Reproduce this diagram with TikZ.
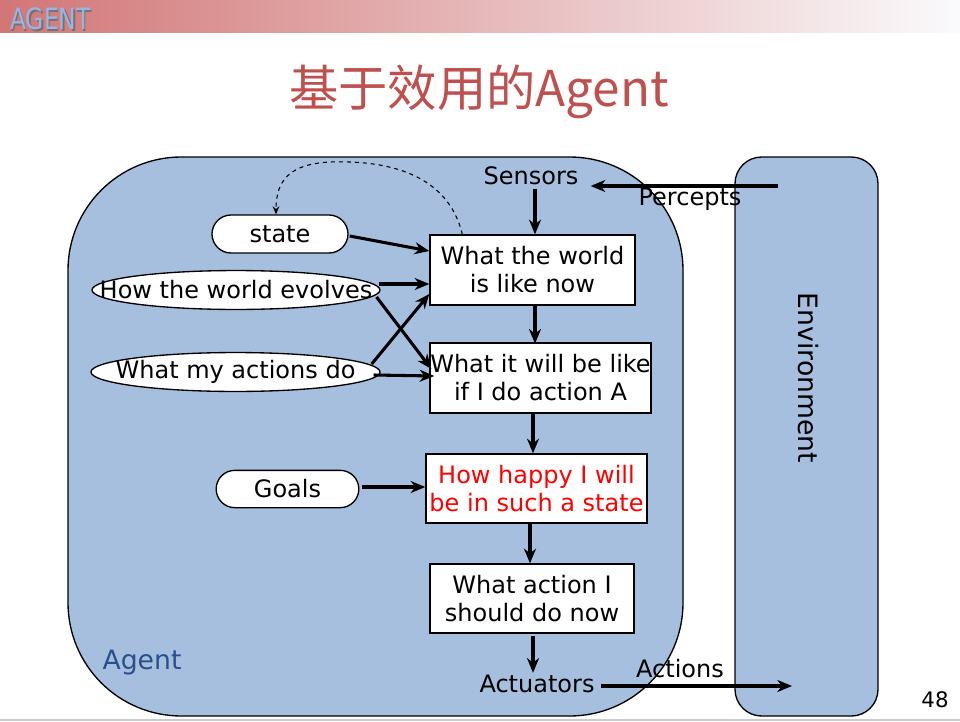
\documentclass[tikz,border=0pt]{standalone}
\usepackage{fontspec}
\setmainfont{DejaVu Sans}
\newfontfamily\cjkfont{Noto Sans CJK SC}
\usetikzlibrary{arrows.meta,shapes.misc,calc}

\definecolor{agentblue}{RGB}{167,191,222}
\definecolor{titlered}{RGB}{192,80,77}
\definecolor{labelblue}{RGB}{40,80,140}
\definecolor{barleft}{RGB}{210,118,118}
\definecolor{barright}{RGB}{250,250,252}
\definecolor{headtext}{RGB}{150,182,230}

\tikzset{
  x=0.75pt, y=-0.75pt,
  panel/.style={draw=black, line width=1pt, fill=agentblue},
  txt/.style={font=\fontsize{18pt}{21pt}\selectfont, inner sep=0pt, align=center},
  procbox/.style={txt, draw=black, line width=1pt, fill=white},
  pill/.style={txt, rounded rectangle, draw=black, line width=1pt, fill=white},
  ovalfill/.style={draw=black, line width=1pt, fill=white},
  arr/.style={line width=2.3pt, -{Stealth[length=11pt,width=9pt,inset=3.5pt]}},
  darr/.style={line width=0.8pt, dashed, -{Stealth[length=6pt,width=5pt,inset=2pt]}}
}

\begin{document}
\begin{tikzpicture}
\useasboundingbox (0,0) rectangle (960,721);

% header bar and footer rule
\shade[left color=barleft, right color=barright] (0,0) rectangle (960,32);
\node[font=\fontsize{22pt}{22pt}\selectfont, text=black!55, xscale=0.8, anchor=west, inner sep=0pt] (headshadow) at (11.5,20.5) {AGENT};
\node[font=\fontsize{22pt}{22pt}\selectfont, text=headtext, xscale=0.8, anchor=west, inner sep=0pt] (head) at (10,19) {AGENT};
\draw[black!20, line width=1.5pt] (0,719.5) -- (960,719.5);

% title
\node[font=\cjkfont\fontsize{37pt}{40pt}\selectfont, text=titlered, inner sep=0pt] (title) at (479,92) {基于效用的Agent};

% agent and environment panels
\draw[panel, rounded corners=85pt] (68,157) rectangle (683,716);
\draw[panel, rounded corners=20pt] (735,157) rectangle (878,716);
\node[txt, rotate=-90, font=\fontsize{20pt}{21pt}\selectfont] (env) at (808,378) {Environment};
\node[txt, text=labelblue, font=\fontsize{20pt}{21pt}\selectfont] (agentlbl) at (142,663) {Agent};

% sensors / actuators
\node[txt] (sensors) at (531,176) {Sensors};
\node[txt] (actuators) at (537,684) {Actuators};
\coordinate (perceptsrc) at (778,186);
\coordinate (actiondst) at (792,686);
\node[txt] (percepts) at (690,199) {Percepts};
\node[txt] (actions) at (680,669) {Actions};

% processing boxes
\node[procbox, minimum width=153.75pt, minimum height=52.5pt] (world) at (532.5,270) {What the world\\is like now};
\node[procbox, minimum width=165.75pt, minimum height=52.5pt] (predict) at (540.5,378) {What it will be like\\if I do action A};
\node[procbox, text=red, minimum width=165.75pt, minimum height=51.75pt] (happy) at (536.5,488.5) {How happy I will\\be in such a state};
\node[procbox, minimum width=153pt, minimum height=51.75pt] (decide) at (532,598.5) {What action I\\should do now};

% knowledge items
\node[pill, minimum width=102pt, minimum height=28.5pt] (state) at (280,234) {state};
\path[ovalfill] (236,290) ellipse [x radius=108pt, y radius=14.6pt];
\node[txt] (evolves) at (236,290) {How the world evolves};
\path[ovalfill] (235.5,372) ellipse [x radius=108.4pt, y radius=14.6pt];
\node[txt] (myactions) at (235.5,372) {What my actions do};
\node[pill, minimum width=107pt, minimum height=28pt] (goals) at (287.5,489) {Goals};

% connectors
\draw[arr] (perceptsrc) -- ($(sensors.east)+(12,10)$);
\draw[arr] ($(sensors.south)+(4,4)$) -- ($(world.north)+(2.5,0)$);
\draw[arr] ($(world.south)+(2.5,0)$) -- ($(world.south)+(2.5,38)$);
\draw[arr] ($(predict.south)+(-7.5,0)$) -- ($(happy.north)+(-3.5,0)$);
\draw[arr] ($(happy.south)+(-6.5,0)$) -- ($(decide.north)+(-2,0)$);
\draw[arr] ($(decide.south)+(1,2)$) -- ($(actuators.north)+(-4,-2)$);
\draw[arr] ($(actuators.east)+(6,2)$) -- (actiondst);

\draw[arr] ($(state.east)+(1,2)$) -- ($(world.west)+(0,-19)$);
\draw[arr] ($(evolves.east)+(6,-6)$) -- ($(world.west)+(0,14)$);
\draw[arr] ($(evolves.east)+(4,7)$) -- ($(predict.west)+(2,-9)$);
\draw[arr] ($(myactions.east)+(16,-8)$) -- ($(world.west)+(0,24)$);
\draw[arr] ($(myactions.east)+(18,3)$) -- ($(predict.west)+(5,-2)$);
\draw[arr] ($(goals.east)+(2,-2)$) -- ($(happy.west)+(0,-1.5)$);

\draw[darr] ($(world.north west)+(33,0)$) .. controls (448,175) and (390,160) .. (330,162)
  .. controls (290,164) and (276,180) .. ($(state.north)+(-4,0)$);

% page number
\node[txt, font=\fontsize{16pt}{18pt}\selectfont] (pagenum) at (935,700) {48};
\end{tikzpicture}
\end{document}
